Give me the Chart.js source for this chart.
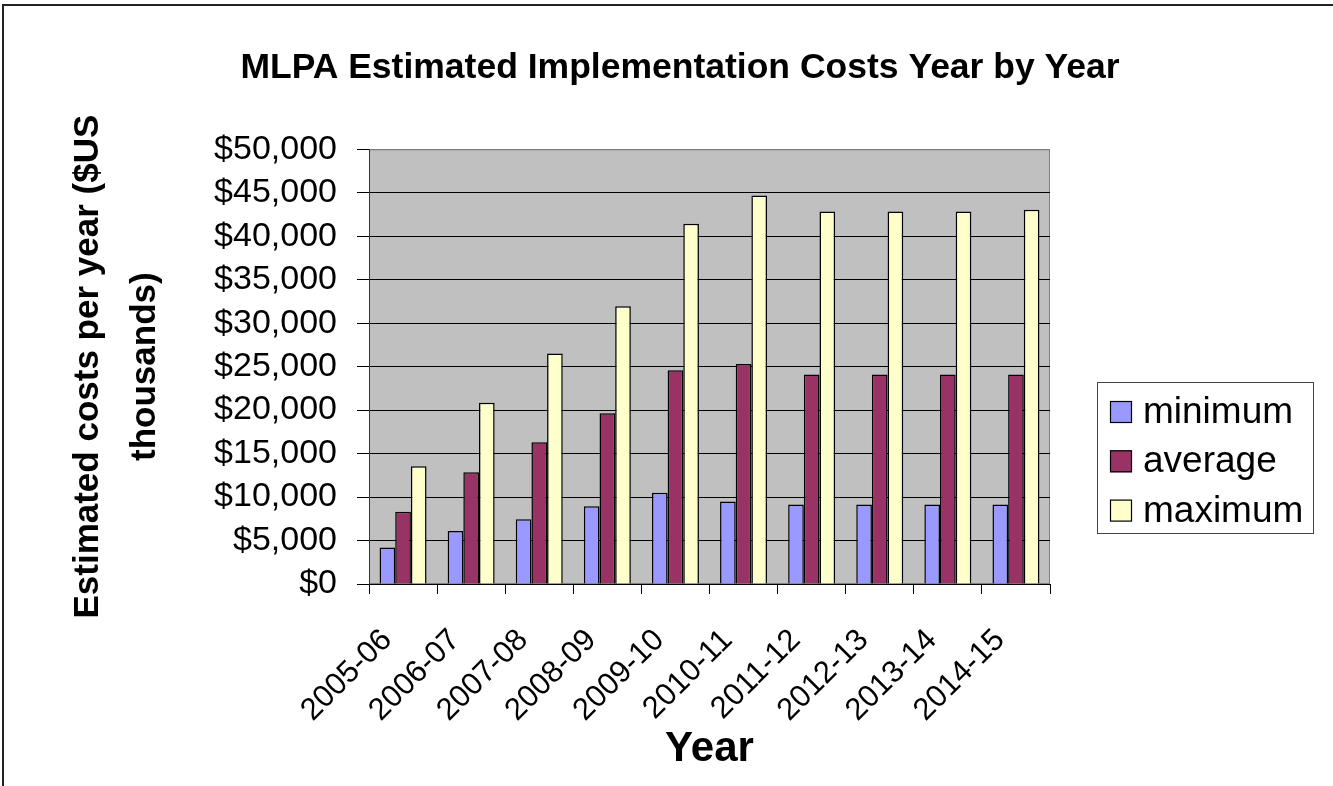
<!DOCTYPE html>
<html><head><meta charset="utf-8">
<script src="https://cdn.jsdelivr.net/npm/chart.js@4.4.0/dist/chart.umd.min.js"></script>
<style>html,body{margin:0;padding:0;background:#fff}canvas{display:block}</style>
</head><body>
<canvas id="c" width="1333" height="786"></canvas>
<script>
const categories = ['2005-06','2006-07','2007-08','2008-09','2009-10','2010-11','2011-12','2012-13','2013-14','2014-15'];
const minimumCosts = [4200, 6100, 7450, 8950, 10500, 9500, 9150, 9150, 9150, 9150];
const averageCosts = [8300, 12850, 16300, 19650, 24600, 25300, 24100, 24100, 24100, 24100];
const maximumCosts = [13550, 20850, 26500, 31950, 41450, 44700, 42850, 42850, 42850, 43050];
const seriesNames = ['minimum', 'average', 'maximum'];
const seriesColors = ['#9999FF', '#993366', '#FFFFCC'];
const yMin = 0, yMax = 50000, yStep = 5000;
const chartTitle = 'MLPA Estimated Implementation Costs Year by Year';
const xTitle = 'Year';
const yTitle = ['Estimated costs per year ($US', 'thousands)'];

const FONT = "'Liberation Sans', Arial, sans-serif";

const frame = {
  id: 'frame',
  beforeDraw(chart) {
    const {ctx, chartArea: a} = chart;
    ctx.save();
    ctx.fillStyle = '#fff';
    ctx.fillRect(0, 0, chart.width, chart.height);
    ctx.strokeStyle = '#222';
    ctx.lineWidth = 2;
    ctx.beginPath();
    ctx.moveTo(3, chart.height);
    ctx.lineTo(3, 5);
    ctx.lineTo(chart.width, 5);
    ctx.stroke();
    ctx.fillStyle = '#C0C0C0';
    ctx.fillRect(a.left, a.top, a.right - a.left, a.bottom - a.top);
    ctx.strokeStyle = '#808080';
    ctx.lineWidth = 1;
    ctx.strokeRect(a.left + 0.5, a.top + 0.5, a.right - a.left - 1, a.bottom - a.top - 1);
    ctx.restore();
  }
};

const boxLegend = {
  id: 'boxLegend',
  afterDraw(chart) {
    const ctx = chart.ctx;
    ctx.save();
    ctx.fillStyle = '#fff';
    ctx.fillRect(1097, 382, 216, 151);
    ctx.strokeStyle = '#444';
    ctx.lineWidth = 1;
    ctx.strokeRect(1097.5, 382.5, 216, 151);
    ctx.font = '37px ' + FONT;
    ctx.textBaseline = 'alphabetic';
    ctx.textAlign = 'left';
    chart.data.datasets.forEach((ds, i) => {
      const y = 401 + i * 49.3;
      ctx.fillStyle = ds.backgroundColor;
      ctx.fillRect(1110, y, 22, 22);
      ctx.strokeStyle = '#000';
      ctx.lineWidth = 1.2;
      ctx.strokeRect(1110.5, y + 0.5, 21, 21);
      ctx.fillStyle = '#000';
      ctx.fillText(ds.label, 1143, y + 22);
    });
    ctx.restore();
  }
};

const mkDs = (i, data) => ({
  label: seriesNames[i], data, backgroundColor: seriesColors[i],
  borderColor: '#000', borderWidth: 1.5,
  categoryPercentage: 0.69, barPercentage: 1.0
});

new Chart(document.getElementById('c'), {
  type: 'bar',
  data: {
    labels: categories,
    datasets: [mkDs(0, minimumCosts), mkDs(1, averageCosts), mkDs(2, maximumCosts)]
  },
  plugins: [frame, boxLegend],
  options: {
    responsive: false,
    animation: false,
    layout: {padding: {left: 27, right: 0, top: 0, bottom: 0}},
    plugins: {
      legend: {display: false},
      tooltip: {enabled: false},
      title: {
        display: true, text: chartTitle, color: '#000',
        font: {family: FONT, size: 35.5, weight: 'bold', lineHeight: 1.2},
        padding: {top: 46.5, bottom: 60.2}
      }
    },
    scales: {
      x: {
        offset: true,
        grid: {display: true, drawOnChartArea: false, drawTicks: true, tickLength: 10, color: '#000', offset: true},
        border: {display: true, color: '#000', width: 1},
        ticks: {font: {family: FONT, size: 31}, color: '#000', maxRotation: 45, minRotation: 45, autoSkip: false, padding: 28, labelOffset: -16},
        title: {display: true, text: xTitle, color: '#000', font: {family: FONT, size: 42, weight: 'bold', lineHeight: 1.2}, padding: {top: 0, bottom: 11}},
        afterFit: s => { s.height = 202; }
      },
      y: {
        min: yMin, max: yMax,
        grid: {color: c => (c.tick && c.tick.value === yMax) ? '#808080' : '#000', tickColor: '#000', tickLength: 12, lineWidth: 1},
        border: {display: true, color: '#333', width: 1},
        ticks: {stepSize: yStep, autoSkip: false, color: '#000', font: {family: FONT, size: 34}, padding: 20,
          callback: v => '$' + Number(v).toLocaleString('en-US')},
        title: {display: true, text: yTitle, color: '#000', font: {family: FONT, size: 35, weight: 'bold', lineHeight: 1.63}, padding: {top: 33, bottom: 0}},
        afterFit: s => { s.width = 342; }
      },
      spacer: {
        type: 'linear', position: 'right', display: true,
        grid: {display: false}, border: {display: false}, ticks: {display: false},
        afterFit: s => { s.width = 283; }
      }
    }
  }
});
</script>
</body></html>
